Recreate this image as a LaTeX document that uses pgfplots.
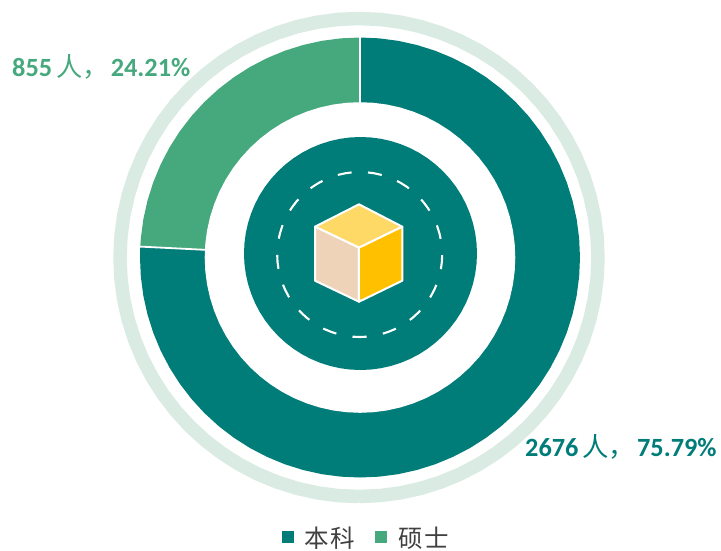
\documentclass[border=0pt]{standalone}
\usepackage{fontspec}
\usepackage{pgfplots}
\usepackage{pgfplotstable}
\usepgfplotslibrary{polar}
\pgfplotsset{compat=1.18}
\setmainfont{Carlito}
\newfontfamily\cjk{Noto Sans CJK SC}
\definecolor{teal1}{HTML}{007C79}
\definecolor{green1}{HTML}{46A97D}
\definecolor{ringc}{HTML}{DAEBE3}
\definecolor{cubetop}{HTML}{FFD966}
\definecolor{cuberight}{HTML}{FFC000}
\definecolor{cubeleft}{HTML}{EFD3B9}
\definecolor{legtext}{HTML}{404040}
% share 2676 (75.79%): 90 deg clockwise to 177.16 deg
\pgfplotstableread{
theta r
0 0
177.16 220
180 220
185 220
190 220
195 220
200 220
205 220
210 220
215 220
220 220
225 220
230 220
235 220
240 220
245 220
250 220
255 220
260 220
265 220
270 220
275 220
280 220
285 220
290 220
295 220
300 220
305 220
310 220
315 220
320 220
325 220
330 220
335 220
340 220
345 220
350 220
355 220
360 220
365 220
370 220
375 220
380 220
385 220
390 220
395 220
400 220
405 220
410 220
415 220
420 220
425 220
430 220
435 220
440 220
445 220
450 220
}\benke
% share 855 (24.21%): 90 deg to 177.16 deg
\pgfplotstableread{
theta r
0 0
90 220
95 220
100 220
105 220
110 220
115 220
120 220
125 220
130 220
135 220
140 220
145 220
150 220
155 220
160 220
165 220
170 220
175 220
177.16 220
}\shuoshi
\pgfplotstableread{
theta ring hole disc dash
270 239 155.3 116.5 82.5
275 239 155.3 116.5 82.5
280 239 155.3 116.5 82.5
285 239 155.3 116.5 82.5
290 239 155.3 116.5 82.5
295 239 155.3 116.5 82.5
300 239 155.3 116.5 82.5
305 239 155.3 116.5 82.5
310 239 155.3 116.5 82.5
315 239 155.3 116.5 82.5
320 239 155.3 116.5 82.5
325 239 155.3 116.5 82.5
330 239 155.3 116.5 82.5
335 239 155.3 116.5 82.5
340 239 155.3 116.5 82.5
345 239 155.3 116.5 82.5
350 239 155.3 116.5 82.5
355 239 155.3 116.5 82.5
360 239 155.3 116.5 82.5
365 239 155.3 116.5 82.5
370 239 155.3 116.5 82.5
375 239 155.3 116.5 82.5
380 239 155.3 116.5 82.5
385 239 155.3 116.5 82.5
390 239 155.3 116.5 82.5
395 239 155.3 116.5 82.5
400 239 155.3 116.5 82.5
405 239 155.3 116.5 82.5
410 239 155.3 116.5 82.5
415 239 155.3 116.5 82.5
420 239 155.3 116.5 82.5
425 239 155.3 116.5 82.5
430 239 155.3 116.5 82.5
435 239 155.3 116.5 82.5
440 239 155.3 116.5 82.5
445 239 155.3 116.5 82.5
450 239 155.3 116.5 82.5
455 239 155.3 116.5 82.5
460 239 155.3 116.5 82.5
465 239 155.3 116.5 82.5
470 239 155.3 116.5 82.5
475 239 155.3 116.5 82.5
480 239 155.3 116.5 82.5
485 239 155.3 116.5 82.5
490 239 155.3 116.5 82.5
495 239 155.3 116.5 82.5
500 239 155.3 116.5 82.5
505 239 155.3 116.5 82.5
510 239 155.3 116.5 82.5
515 239 155.3 116.5 82.5
520 239 155.3 116.5 82.5
525 239 155.3 116.5 82.5
530 239 155.3 116.5 82.5
535 239 155.3 116.5 82.5
540 239 155.3 116.5 82.5
545 239 155.3 116.5 82.5
550 239 155.3 116.5 82.5
555 239 155.3 116.5 82.5
560 239 155.3 116.5 82.5
565 239 155.3 116.5 82.5
570 239 155.3 116.5 82.5
575 239 155.3 116.5 82.5
580 239 155.3 116.5 82.5
585 239 155.3 116.5 82.5
590 239 155.3 116.5 82.5
595 239 155.3 116.5 82.5
600 239 155.3 116.5 82.5
605 239 155.3 116.5 82.5
610 239 155.3 116.5 82.5
615 239 155.3 116.5 82.5
620 239 155.3 116.5 82.5
625 239 155.3 116.5 82.5
630 239 155.3 116.5 82.5
}\circles
\begin{document}
\begin{tikzpicture}[x=1pt,y=1pt]
\useasboundingbox (0,0) rectangle (721,550);
\begin{polaraxis}[
  at={(360pt,292.5pt)},anchor=center,
  scale only axis,width=492pt,height=492pt,
  hide axis,clip=false,
  xmin=0,xmax=360,ymin=0,ymax=246,
  area legend,
  legend columns=2,
  legend style={at={(0.341,-0.097)},anchor=south west,draw=none,fill=none,
    font=\fontsize{24.5}{24.5}\selectfont\cjk\color{legtext},
    /tikz/every even column/.append style={column sep=18pt},
    inner sep=0pt,outer sep=0pt},
  legend image code/.code={\fill[#1] (0pt,-5pt) rectangle (12pt,7pt);},
]
\addplot[fill=teal1,draw=none] table[x=theta,y=r] {\benke} -- cycle;
\addlegendentry{\hspace{9pt}本\hspace{1.5pt}科}
\addplot[fill=green1,draw=none] table[x=theta,y=r] {\shuoshi} -- cycle;
\addlegendentry{\hspace{9pt}硕\hspace{1.5pt}士}
\addplot[forget plot,draw=ringc,line width=13.5pt,xshift=-1pt] table[x=theta,y=ring] {\circles};
\addplot[forget plot,fill=white,draw=none] table[x=theta,y=hole] {\circles} -- cycle;
\addplot[forget plot,draw=white,line width=1.8pt] coordinates {(90,150) (90,222)};
\addplot[forget plot,draw=white,line width=1.8pt] coordinates {(177.16,150) (177.16,222)};
\addplot[forget plot,fill=teal1,draw=none,xshift=0.5pt,yshift=4pt] table[x=theta,y=disc] {\circles} -- cycle;
\addplot[forget plot,draw=white,line width=2.1pt,dash pattern=on 14pt off 16.47pt,dash phase=7pt,xshift=-0.3pt,yshift=3pt] table[x=theta,y=dash] {\circles};
\addplot[forget plot,data cs=cart,fill=cubetop,draw=white,line width=2pt,line join=round] coordinates {(-1,53.2) (42.3,30.8) (-1,9.8) (-45,30.8)} -- cycle;
\addplot[forget plot,data cs=cart,fill=cubeleft,draw=white,line width=2pt,line join=round] coordinates {(-45,30.8) (-1,9.8) (-1,-44.2) (-45,-23.2)} -- cycle;
\addplot[forget plot,data cs=cart,fill=cuberight,draw=white,line width=2pt,line join=round] coordinates {(-1,9.8) (42.3,30.8) (42.3,-23.2) (-1,-44.2)} -- cycle;
\end{polaraxis}
\node[anchor=west,inner sep=0pt,text=green1,font=\fontsize{26.3}{26.3}\selectfont\bfseries] at (12,483)
  {855\hspace{4pt}{\cjk\mdseries 人，}\hspace{2pt}24.21\%};
\node[anchor=west,inner sep=0pt,text=teal1,font=\fontsize{26.3}{26.3}\selectfont\bfseries] at (525,103)
  {2676\hspace{4pt}{\cjk\mdseries 人，}\hspace{2pt}75.79\%};
\end{tikzpicture}
\end{document}
